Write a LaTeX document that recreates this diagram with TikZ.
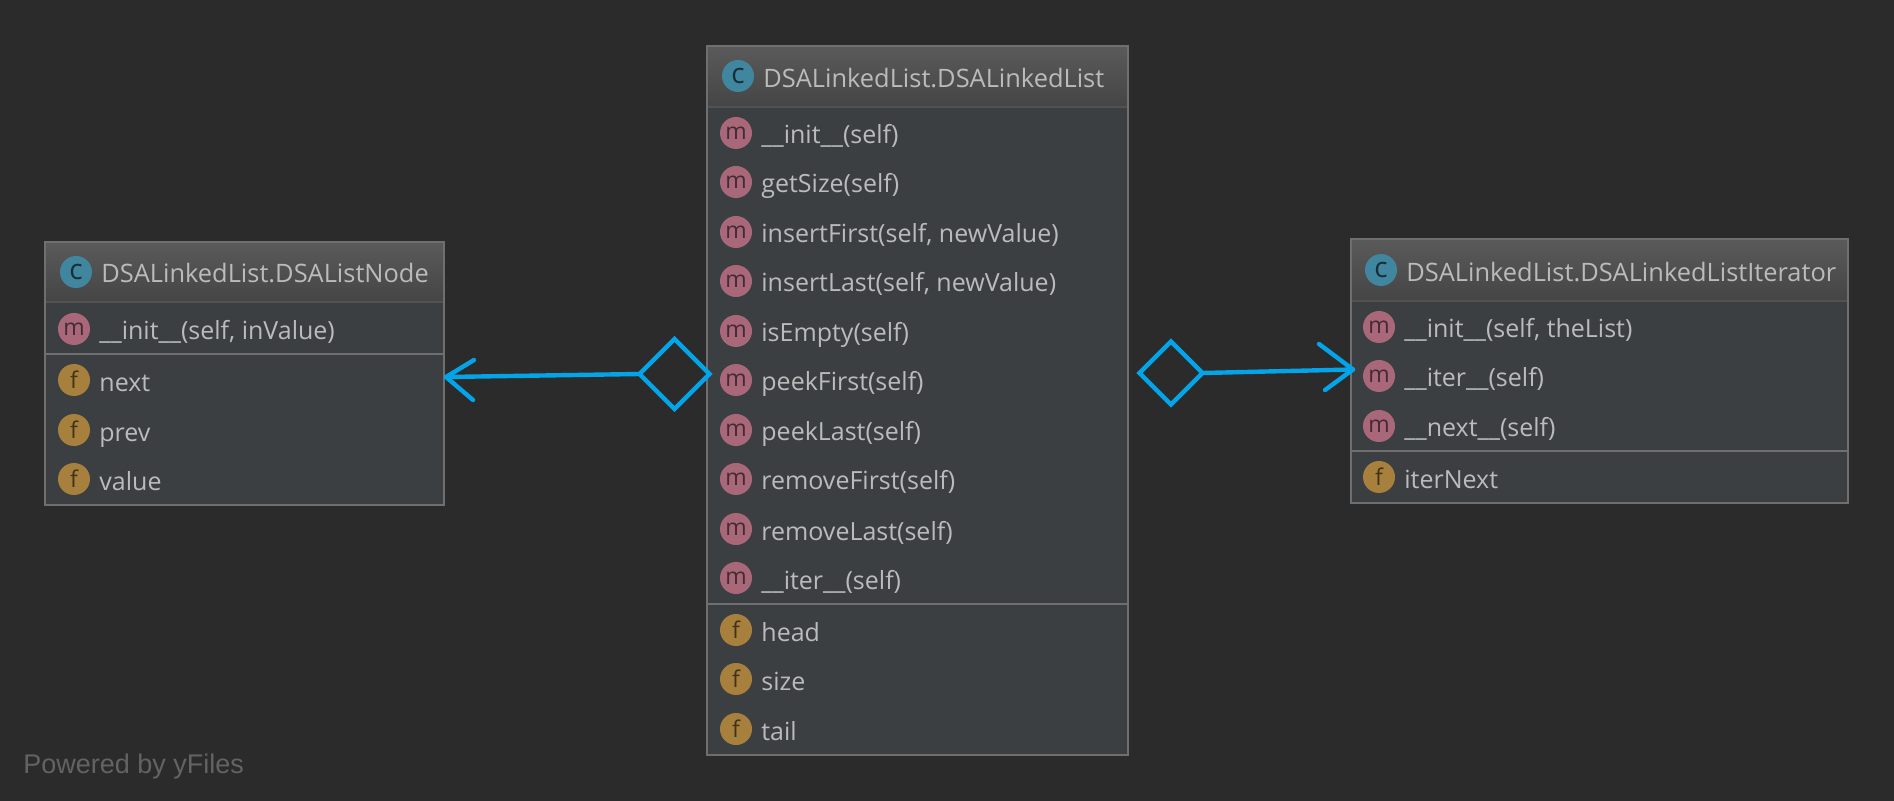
\documentclass[tikz,border=0pt]{standalone}
\usepackage{fontspec}
\setmainfont{Open Sans}
\newfontfamily\yfont{Liberation Sans}
\usetikzlibrary{shapes.geometric}

\definecolor{bgcol}{HTML}{2B2B2B}
\definecolor{boxcol}{HTML}{3C3F41}
\definecolor{edgecol}{HTML}{6F6F6F}
\definecolor{headtop}{HTML}{5A5A5A}
\definecolor{headbot}{HTML}{454545}
\definecolor{headline}{HTML}{525252}
\definecolor{txtcol}{HTML}{BBBBBB}
\definecolor{linkcol}{HTML}{03A5E8}
\definecolor{ccol}{HTML}{40869F}
\definecolor{mcol}{HTML}{A9687A}
\definecolor{fcol}{HTML}{A6803C}
\definecolor{ycol}{HTML}{636363}
\def\px{0.5pt}

\tikzset{
	classbox/.style={draw=edgecol, line width=1pt, fill=boxcol, inner sep=0, outer sep=0},
	headbar/.style={top color=headtop, bottom color=headbot, draw=edgecol, line width=1pt, inner sep=0, outer sep=0, anchor=north},
	headsep/.style={draw=headline, line width=1pt, shorten <=0.5pt, shorten >=0.5pt},
	rowsep/.style={draw=edgecol, line width=1pt},
	icon/.style={circle, inner sep=0, minimum size=32*\px, font=\fontsize{11.5}{12}\selectfont},
	cicon/.style={icon, fill=ccol, text=ccol!35!black, font=\fontsize{14}{14}\selectfont},
	micon/.style={icon, fill=mcol, text=mcol!40!black},
	ficon/.style={icon, fill=fcol, text=fcol!40!black},
	rowtxt/.style={anchor=base west, inner sep=0, text=txtcol, font=\fontsize{12.5}{14}\selectfont},
	titletxt/.style={rowtxt, font=\fontsize{12.7}{14}\selectfont},
	link/.style={draw=linkcol, line width=2.2pt, line cap=round, line join=round},
	dmd/.style={diamond, aspect=1, draw=linkcol, line width=2.2pt, inner sep=0, outer sep=0}
}

\begin{document}
\begin{tikzpicture}[x=0.5pt, y=-0.5pt]
	\useasboundingbox[fill=bgcol] (0,0) rectangle (1894,801);

	% left box
	\node[classbox, minimum width=399*\px, minimum height=263*\px] (nodeBox) at (244.5,373.5) {};
	\node[headbar, minimum width=399*\px, minimum height=60*\px] (nodeHead) at (nodeBox.north) {};
	\draw[headsep] (nodeHead.south west) -- (nodeHead.south east);
	\draw[rowsep] (nodeBox.west |- 0,354) -- (nodeBox.east |- 0,354);
	\node[cicon] (nodeC) at (76,272) {c};
	\node[titletxt] (nodeTitle) at (101,283) {DSALinkedList.DSAListNode};
	\node[micon] (nodeM1) at (74,329) {m};
	\node[rowtxt] (nodeT1) at (99,340) {\_\_init\_\_(self, inValue)};
	\foreach \y/\t [count=\i] in {380/next, 430/prev, 479/value} {
		\node[ficon] (nodeF\i) at (74,\y) {f};
		\node[rowtxt] (nodeV\i) at (99,\y+11.5) {\t};
	}

	% centre box
	\node[classbox, minimum width=421*\px, minimum height=709*\px] (listBox) at (917.5,400.5) {};
	\node[headbar, minimum width=421*\px, minimum height=61*\px] (listHead) at (listBox.north) {};
	\draw[headsep] (listHead.south west) -- (listHead.south east);
	\draw[rowsep] (listBox.west |- 0,604) -- (listBox.east |- 0,604);
	\node[cicon] (listC) at (738,76) {c};
	\node[titletxt] (listTitle) at (763,88) {DSALinkedList.DSALinkedList};
	\foreach \y/\t [count=\i] in {133/{\_\_init\_\_(self)}, 182/{getSize(self)}, 232/{insertFirst(self, newValue)}, 281/{insertLast(self, newValue)}, 331/{isEmpty(self)}, 380/{peekFirst(self)}, 430/{peekLast(self)}, 479/{removeFirst(self)}, 529/{removeLast(self)}, 578/{\_\_iter\_\_(self)}} {
		\node[micon] (listM\i) at (736,\y) {m};
		\node[rowtxt] (listT\i) at (761,\y+11) {\t};
	}
	\foreach \y/\t [count=\i] in {630/head, 679/size, 729/tail} {
		\node[ficon] (listF\i) at (736,\y) {f};
		\node[rowtxt] (listV\i) at (761,\y+11) {\t};
	}

	% right box
	\node[classbox, minimum width=497*\px, minimum height=264*\px] (iterBox) at (1599.5,371) {};
	\node[headbar, minimum width=497*\px, minimum height=62*\px] (iterHead) at (iterBox.north) {};
	\draw[headsep] (iterHead.south west) -- (iterHead.south east);
	\draw[rowsep] (iterBox.west |- 0,451) -- (iterBox.east |- 0,451);
	\node[cicon] (iterC) at (1381,270) {c};
	\node[titletxt] (iterTitle) at (1406,282) {DSALinkedList.DSALinkedListIterator};
	\foreach \y/\t [count=\i] in {327/{\_\_init\_\_(self, theList)}, 376/{\_\_iter\_\_(self)}, 426/{\_\_next\_\_(self)}} {
		\node[micon] (iterM\i) at (1379,\y) {m};
		\node[rowtxt] (iterT\i) at (1404,\y+11) {\t};
	}
	\node[ficon] (iterF1) at (1379,477) {f};
	\node[rowtxt] (iterV1) at (1404,488) {iterNext};

	% links
	\node[dmd, minimum size=70*\px] (dmdLeft) at (674.5,374) {};
	\node[dmd, minimum size=63*\px] (dmdRight) at (1171,373) {};
	\coordinate (tipLeft) at (446,377);
	\coordinate (barbLa) at (474,360);
	\coordinate (barbLb) at (473,400);
	\coordinate (tipRight) at (1353,369.5);
	\coordinate (barbRa) at (1319,344);
	\coordinate (barbRb) at (1325,390);
	\draw[link] (dmdLeft.west) -- (tipLeft);
	\draw[link] (barbLa) -- (tipLeft) -- (barbLb);
	\draw[link] (dmdRight.east) -- (tipRight);
	\draw[link] (barbRa) -- (tipRight) -- (barbRb);

	\node[anchor=base west, inner sep=0, text=ycol, font=\yfont\fontsize{13.5}{15}\selectfont] (poweredBy) at (23,773) {Powered by yFiles};
\end{tikzpicture}
\end{document}
